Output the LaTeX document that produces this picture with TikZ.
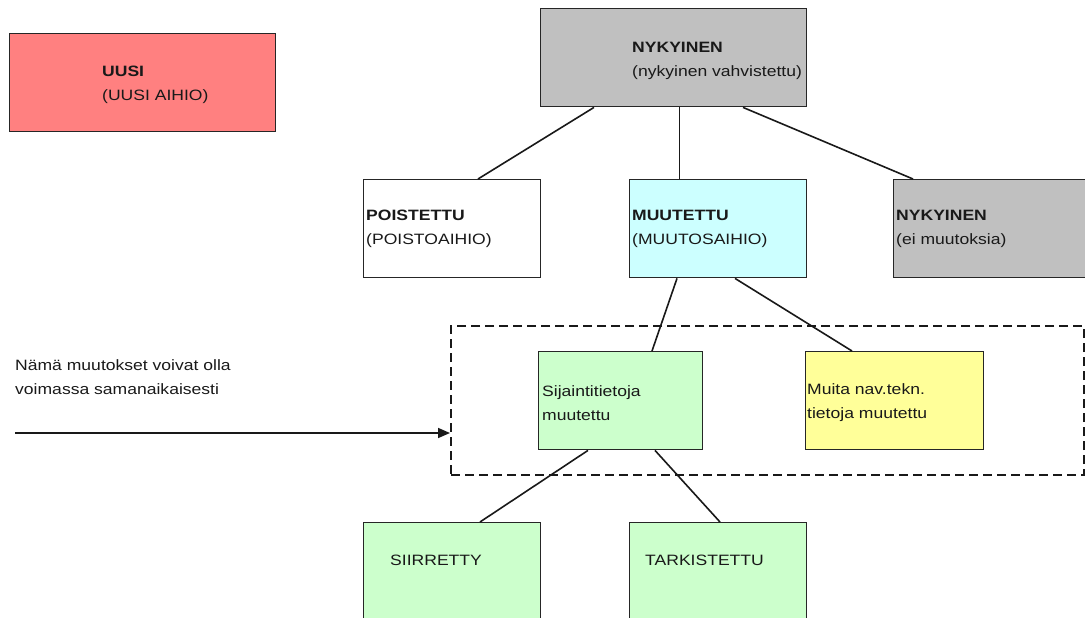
\documentclass[tikz,border=0pt]{standalone}
\usepackage{fontspec}
\setmainfont[FakeStretch=1.17]{Liberation Sans}
\usetikzlibrary{arrows.meta}
\definecolor{uusired}{HTML}{FF8080}
\definecolor{nykgray}{HTML}{C0C0C0}
\definecolor{muutcyan}{HTML}{CCFFFF}
\definecolor{sijgreen}{HTML}{CCFFCC}
\definecolor{muitayellow}{HTML}{FFFF99}
\tikzset{
	box/.style={draw=black!85, line width=1.4pt, anchor=north west, inner sep=0pt, minimum height=98pt},
	boxtext/.style={anchor=west, align=left, inner sep=0pt, text=black!90, font=\fontsize{15}{24}\selectfont},
	link/.style={line width=1.6pt, draw=black!90},
}

\begin{document}
\begin{tikzpicture}[x=1pt,y=-1pt]
			%%%%% START %%%%%
			\useasboundingbox (0,0) rectangle (1085,618);
			
			% group of simultaneous changes
			\node[draw=black!90, line width=2pt, dash pattern=on 9pt off 5pt, anchor=north west, inner sep=0pt, minimum width=633pt, minimum height=149pt] (grp) at (450,325) {};
			
			\node[box, fill=uusired, minimum width=266pt] (uusi) at (9,33) {};
			\node[box, fill=nykgray, minimum width=266pt] (nyk) at (540,8) {};
			\node[box, fill=white, minimum width=177pt] (poist) at (363,179) {};
			\node[box, fill=muutcyan, minimum width=177pt] (muut) at (629,179) {};
			\node[box, fill=nykgray, minimum width=200pt] (nyk2) at (893,179) {};
			\node[box, fill=sijgreen, minimum width=164pt] (sij) at (538,351) {};
			\node[box, fill=muitayellow, minimum width=178pt] (muita) at (805,351) {};
			\node[box, fill=sijgreen, minimum width=177pt] (siir) at (363,522) {};
			\node[box, fill=sijgreen, minimum width=177pt] (tark) at (629,522) {};
			
			\node[boxtext] (uusi-t) at ([xshift=93pt,yshift=-2pt]uusi.west) {\textbf{UUSI}\\(UUSI AIHIO)};
			\node[boxtext] (nyk-t) at ([xshift=92pt,yshift=-3pt]nyk.west) {\textbf{NYKYINEN}\\(nykyinen vahvistettu)};
			\node[boxtext] (poist-t) at ([xshift=3pt]poist.west) {\textbf{POISTETTU}\\(POISTOAIHIO)};
			\node[boxtext] (muut-t) at ([xshift=3pt]muut.west) {\textbf{MUUTETTU}\\(MUUTOSAIHIO)};
			\node[boxtext] (nyk2-t) at ([xshift=3pt]nyk2.west) {\textbf{NYKYINEN}\\(ei muutoksia)};
			\node[boxtext] (sij-t) at ([xshift=4pt,yshift=-2pt]sij.west) {Sijaintitietoja\\muutettu};
			\node[boxtext] (muita-t) at ([xshift=2pt,yshift=-2pt]muita.west) {Muita nav.tekn.\\tietoja muutettu};
			\node[boxtext] (siir-t) at ([xshift=27pt,yshift=11pt]siir.west) {SIIRRETTY};
			\node[boxtext] (tark-t) at ([xshift=16pt,yshift=11pt]tark.west) {TARKISTETTU};
			
			% tree lines
			\draw[link] ([xshift=54pt]nyk.south west) -- ([xshift=115pt]poist.north west);
			\draw[line width=1pt, draw=black!90] ([xshift=139pt]nyk.south west) -- ([xshift=50pt]muut.north west);
			\draw[link] ([xshift=203pt]nyk.south west) -- ([xshift=20pt]nyk2.north west);
			\draw[link] ([xshift=48pt]muut.south west) -- ([xshift=114pt]sij.north west);
			\draw[link] ([xshift=106pt]muut.south west) -- ([xshift=47pt]muita.north west);
			\draw[link] ([xshift=50pt]sij.south west) -- ([xshift=117pt]siir.north west);
			\draw[link] ([xshift=117pt]sij.south west) -- ([xshift=91pt]tark.north west);
			
			% note with arrow
			\node[boxtext] (note) at (15,377) {Nämä muutokset voivat olla\\voimassa samanaikaisesti};
			\coordinate (note-arrow) at (15,433);
			\draw[link, -{Triangle[length=12pt,width=10pt]}] (note-arrow) -- (note-arrow -| grp.west);
			
			%%%%% END %%%%%
\end{tikzpicture}
\end{document}
